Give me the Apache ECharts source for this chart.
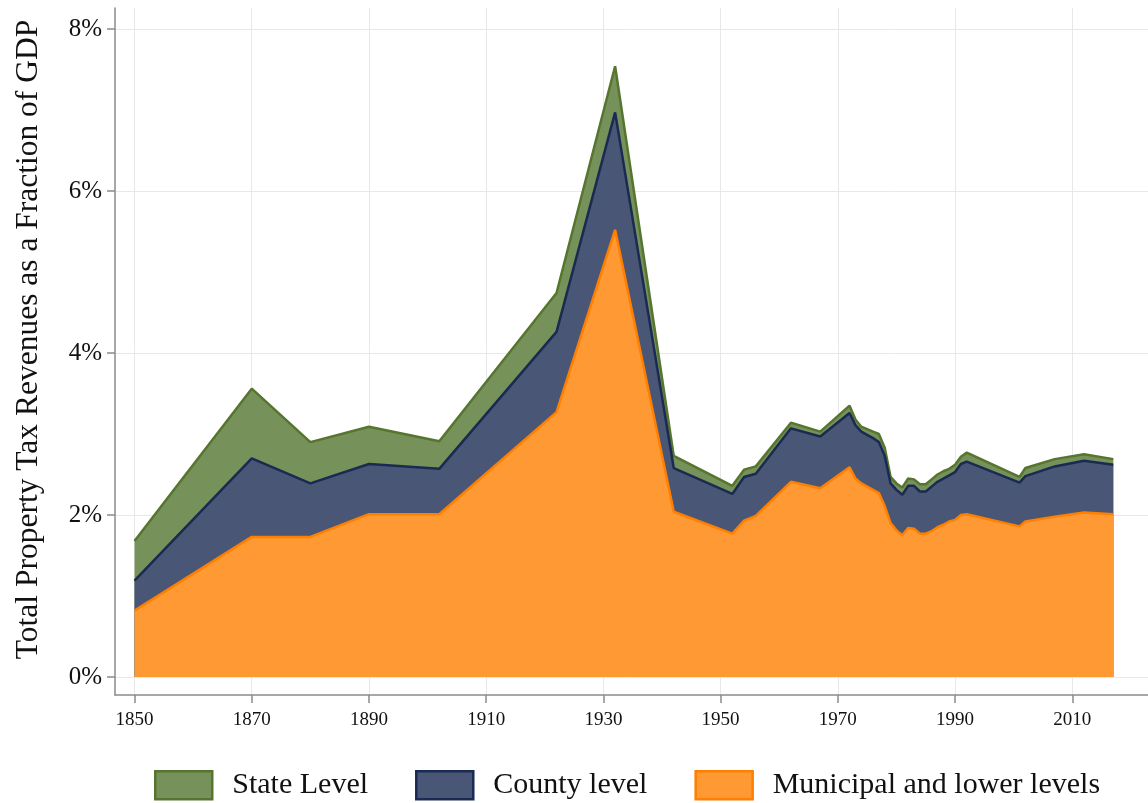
<!DOCTYPE html>
<html><head><meta charset="utf-8">
<script src="https://cdn.jsdelivr.net/npm/echarts@6/dist/echarts.min.js"></script>
<style>html,body{margin:0;padding:0;background:#fff}#c{width:1148px;height:803px}</style>
</head><body><div id="c"></div>
<script>
const years     = [1850,1870,1880,1890,1902,1922,1932,1942,1952,1954,1956,1962,1967,1972,1973,1974,1975,1976,1977,1978,1979,1980,1981,1982,1983,1984,1985,1986,1987,1988,1989,1990,1991,1992,2001,2002,2007,2012,2017];
const municipal = [0.82,1.73,1.73,2.01,2.01,3.27,5.52,2.04,1.77,1.93,1.99,2.41,2.33,2.59,2.45,2.39,2.35,2.31,2.27,2.11,1.90,1.81,1.75,1.84,1.83,1.77,1.77,1.80,1.85,1.88,1.92,1.94,2.00,2.01,1.86,1.92,1.98,2.03,2.01];
const county    = [0.37,0.97,0.66,0.62,0.56,0.99,1.45,0.54,0.49,0.54,0.52,0.66,0.64,0.67,0.66,0.64,0.64,0.64,0.63,0.62,0.49,0.50,0.50,0.52,0.53,0.52,0.52,0.55,0.56,0.57,0.57,0.59,0.63,0.65,0.54,0.56,0.62,0.64,0.61];
const state     = [0.49,0.86,0.51,0.46,0.34,0.48,0.57,0.15,0.10,0.09,0.09,0.07,0.06,0.09,0.07,0.06,0.07,0.08,0.10,0.10,0.08,0.08,0.09,0.09,0.08,0.09,0.09,0.09,0.09,0.09,0.08,0.09,0.09,0.11,0.07,0.10,0.09,0.08,0.07];
const xTicks = [1850,1870,1890,1910,1930,1950,1970,1990,2010];
const yTicks = [0,2,4,6,8];

const FONT = 'Liberation Serif';
const fills = {'State Level':'#76915a','County level':'#4a5675','Municipal and lower levels':'#ff9933'};
const lines = {'State Level':'#56752f','County level':'#1b2a52','Municipal and lower levels':'#ff7f00'};

// cumulative tops of each layer (layers drawn from 0, upper layers behind lower ones)
const cumMunicipal = municipal.slice();
const cumCounty = municipal.map((v,i)=>v+county[i]);
const cumState = cumCounty.map((v,i)=>v+state[i]);

function mk(name, vals, z){
  return {
    name, type:'line', z,
    data: years.map((y,i)=>[y, +vals[i].toFixed(4)]),
    symbol:'none', smooth:false,
    lineStyle:{color:lines[name], width:2.5},
    areaStyle:{color:fills[name], opacity:1, origin:0},
    itemStyle:{color:fills[name]},
    emphasis:{disabled:true}, silent:true
  };
}

const chart = echarts.init(document.getElementById('c'), null, {renderer:'canvas'});
chart.setOption({
  animation:false,
  backgroundColor:'#ffffff',
  grid:{left:115, right:0, top:8, bottom:108, containLabel:false, outerBoundsMode:'none'},
  xAxis:{
    type:'value', min:1846.67, max:2022.92,
    axisLine:{show:true, onZero:false, lineStyle:{color:'#8a8a8a', width:1.5}},
    axisTick:{show:true, customValues:xTicks, length:8, lineStyle:{color:'#8a8a8a', width:1.5}},
    axisLabel:{customValues:xTicks, fontFamily:FONT, fontSize:19, color:'#111', margin:16, formatter:v=>String(v)},
    splitLine:{show:true, lineStyle:{color:'#e8e8e8', width:1}}
  },
  yAxis:{
    type:'value', min:-0.222, max:8.259,
    name:'Total Property Tax Revenues as a Fraction of GDP',
    nameLocation:'middle', nameRotate:90, nameGap:70,
    nameTextStyle:{fontFamily:FONT, fontSize:31.5, color:'#111', padding:[0,0,0,24]},
    axisLine:{show:true, onZero:false, lineStyle:{color:'#8a8a8a', width:1.5}},
    axisTick:{show:true, customValues:yTicks, length:8, lineStyle:{color:'#8a8a8a', width:1.5}},
    axisLabel:{customValues:yTicks, fontFamily:FONT, fontSize:25, color:'#111', margin:13, formatter:v=>v+'%'},
    splitLine:{show:true, lineStyle:{color:'#e8e8e8', width:1}}
  },
  legend:{
    left:149, top:765, itemWidth:57, itemHeight:28, itemGap:47, icon:'rect',
    textStyle:{fontFamily:FONT, fontSize:30, color:'#111', padding:[0,0,0,15]},
    data:[
      {name:'State Level', itemStyle:{color:fills['State Level'], borderColor:lines['State Level'], borderWidth:2.5}},
      {name:'County level', itemStyle:{color:fills['County level'], borderColor:lines['County level'], borderWidth:2.5}},
      {name:'Municipal and lower levels', itemStyle:{color:fills['Municipal and lower levels'], borderColor:lines['Municipal and lower levels'], borderWidth:2.5}}
    ]
  },
  series:[
    mk('State Level', cumState, 3),
    mk('County level', cumCounty, 4),
    mk('Municipal and lower levels', cumMunicipal, 5)
  ]
});
</script>
</body></html>
